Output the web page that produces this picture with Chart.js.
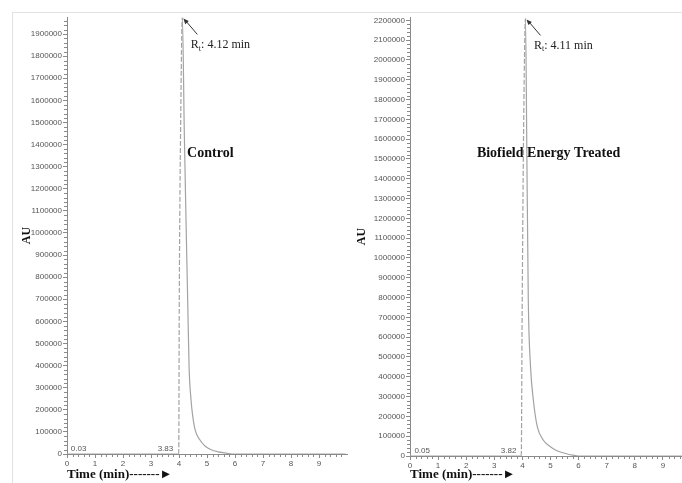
<!DOCTYPE html>
<html>
<head>
<meta charset="utf-8">
<script src="https://cdn.jsdelivr.net/npm/chart.js@4.4.1/dist/chart.umd.min.js"></script>
<style>
  html, body { margin: 0; padding: 0; background: #fff; }
  #wrap { position: relative; width: 682px; height: 483px; overflow: hidden; }
  #frame { position: absolute; left: 12px; top: 12px; width: 670px; height: 471px;
           border-top: 1px solid #e2e2e2; border-left: 1px solid #e2e2e2; }
  canvas { position: absolute; top: 0; }
  #left { left: 0; }
  #right { left: 341px; }
</style>
</head>
<body>
<div id="wrap">
  <div id="frame"></div>
  <canvas id="left" width="352" height="483"></canvas>
  <canvas id="right" width="341" height="483"></canvas>
</div>
<script>
// control sample (left panel)
const timeControl = [0, 3.99, 4.01, 4.06, 4.12, 4.19, 4.26, 4.31, 4.36, 4.43, 4.55, 4.75, 4.95, 5.17, 5.4, 5.64, 5.9, 9.95];
const auControl   = [0, 0, 700000, 1500000, 1975000, 1450000, 1000000, 697000, 395000, 244000, 124000, 63000, 34000, 18000, 10000, 5000, 0, 0];

// biofield energy treated sample (right panel)
const timeTreated = [0, 3.96, 3.99, 4.04, 4.11, 4.16, 4.21, 4.29, 4.39, 4.53, 4.74, 4.95, 5.16, 5.38, 5.6, 5.8, 6.0, 9.7];
const auTreated   = [0, 0, 700000, 1600000, 2210000, 1500000, 788000, 450000, 283000, 148000, 81000, 52000, 32000, 19000, 10000, 4000, 0, 0];

const sampleNames = ['Control', 'Biofield Energy Treated'];
const retentionTimes = ['4.12', '4.11'];
const baselineMarks = [['0.03', '3.83'], ['0.05', '3.82']];
const yTicksControl = [0, 100000, 200000, 300000, 400000, 500000, 600000, 700000, 800000, 900000, 1000000,
  1100000, 1200000, 1300000, 1400000, 1500000, 1600000, 1700000, 1800000, 1900000];
const yTicksTreated = yTicksControl.concat([2000000, 2100000, 2200000]);
const xTicks = [0, 1, 2, 3, 4, 5, 6, 7, 8, 9];

const axisColor = '#8a8a8a';
const lineColor = '#a3a3a3';

const decorations = {
  id: 'decorations',
  afterDraw(chart, args, opts) {
    const ctx = chart.ctx;
    const xs = chart.scales.x, ys = chart.scales.y;
    ctx.save();

    // minor ticks
    ctx.strokeStyle = axisColor;
    ctx.lineWidth = 1;
    ctx.beginPath();
    for (let v = 20000; v <= ys.max; v += 20000) {
      if (v % 100000 === 0) continue;
      const py = Math.round(ys.getPixelForValue(v)) + 0.5;
      ctx.moveTo(ys.right - 3, py);
      ctx.lineTo(ys.right, py);
    }
    for (let i = 1; i * 0.2 <= xs.max; i++) {
      if (i % 5 === 0) continue;
      const px = Math.round(xs.getPixelForValue(i * 0.2)) + 0.5;
      ctx.moveTo(px, xs.top);
      ctx.lineTo(px, xs.top + 3);
    }
    ctx.stroke();

    // baseline peak marks
    const y0 = ys.getPixelForValue(0);
    ctx.fillStyle = '#555';
    ctx.font = '8px "Liberation Sans", Arial, sans-serif';
    ctx.textBaseline = 'bottom';
    ctx.textAlign = 'left';
    ctx.fillText(opts.marks[0], xs.getPixelForValue(+opts.marks[0]) + 3, y0 - 1);
    ctx.textAlign = 'right';
    ctx.fillText(opts.marks[1], xs.getPixelForValue(+opts.marks[1]) - 1, y0 - 1);

    // retention time arrow + label
    const ds = chart.data.datasets[0].data;
    let apex = ds[0];
    ds.forEach(p => { if (p.y > apex.y) apex = p; });
    const ax = xs.getPixelForValue(apex.x), ay = ys.getPixelForValue(apex.y);
    ctx.strokeStyle = '#333';
    ctx.fillStyle = '#333';
    ctx.beginPath();
    ctx.moveTo(ax + 15, ay + 17);
    ctx.lineTo(ax + 3, ay + 3);
    ctx.stroke();
    const ang = Math.atan2(-16, -14);
    ctx.beginPath();
    ctx.moveTo(ax + 1, ay + 1);
    ctx.lineTo(ax + 1 - 6 * Math.cos(ang - 0.4), ay + 1 - 6 * Math.sin(ang - 0.4));
    ctx.lineTo(ax + 1 - 6 * Math.cos(ang + 0.4), ay + 1 - 6 * Math.sin(ang + 0.4));
    ctx.closePath();
    ctx.fill();

    ctx.fillStyle = '#222';
    ctx.textAlign = 'left';
    ctx.textBaseline = 'middle';
    let tx = ax + 8.5;
    const ty = ay + 27;
    ctx.font = '12px "Liberation Serif", "Times New Roman", serif';
    ctx.fillText('R', tx, ty);
    tx += ctx.measureText('R').width;
    ctx.font = '8px "Liberation Serif", "Times New Roman", serif';
    ctx.fillText('t', tx, ty + 4);
    tx += ctx.measureText('t').width;
    ctx.font = '12px "Liberation Serif", "Times New Roman", serif';
    ctx.fillText(': ' + opts.rt + ' min', tx, ty);

    // sample name
    ctx.fillStyle = '#111';
    ctx.font = 'bold 14px "Liberation Serif", "Times New Roman", serif';
    ctx.fillText(opts.name, xs.getPixelForValue(opts.nameAt[0]), ys.getPixelForValue(opts.nameAt[1]));
    ctx.restore();
  }
};

function makeChart(id, times, values, yTicks, cfg) {
  const points = times.map((t, i) => ({ x: t, y: values[i] }));
  return new Chart(document.getElementById(id).getContext('2d'), {
    type: 'line',
    data: {
      datasets: [{
        data: points,
        borderColor: lineColor,
        borderWidth: 1.2,
        pointRadius: 0,
        fill: false,
        cubicInterpolationMode: 'monotone',
        segment: {
          borderDash: c => (c.p1.parsed.y > c.p0.parsed.y ? [5, 2] : undefined)
        }
      }]
    },
    options: {
      responsive: false,
      animation: false,
      layout: { padding: { left: 0, right: cfg.padRight, top: 17, bottom: 0 } },
      scales: {
        x: {
          type: 'linear',
          min: 0,
          max: cfg.xMax,
          afterBuildTicks: s => { s.ticks = xTicks.map(v => ({ value: v })); },
          afterFit: s => { s.height = cfg.xHeight; },
          border: { color: axisColor },
          grid: { drawOnChartArea: false, tickLength: 4, tickColor: axisColor },
          ticks: {
            autoSkip: false, maxRotation: 0, padding: 1, color: '#555',
            font: { family: '"Liberation Sans", Arial, sans-serif', size: 8 },
            callback: v => String(v)
          },
          title: {
            display: true,
            text: 'Time (min)-------►',
            align: 'start',
            color: '#111',
            font: { family: '"Liberation Serif", "Times New Roman", serif', size: 13, weight: 'bold' },
            padding: { top: 0, bottom: 1 }
          }
        },
        y: {
          min: 0,
          max: cfg.yMax,
          afterBuildTicks: s => { s.ticks = yTicks.map(v => ({ value: v })); },
          afterFit: s => { s.width = cfg.yWidth; },
          border: { color: axisColor },
          grid: { drawOnChartArea: false, tickLength: 4, tickColor: axisColor },
          ticks: {
            autoSkip: false, padding: 1, color: '#555',
            font: { family: '"Liberation Sans", Arial, sans-serif', size: 8 },
            callback: v => String(v)
          },
          title: {
            display: true,
            text: 'AU',
            color: '#111',
            font: { family: '"Liberation Serif", "Times New Roman", serif', size: 12, weight: 'bold' },
            padding: { top: cfg.titlePad, bottom: 0 }
          }
        }
      },
      plugins: {
        legend: { display: false },
        tooltip: { enabled: false },
        decorations: { name: cfg.name, rt: cfg.rt, marks: cfg.marks, nameAt: cfg.nameAt }
      }
    },
    plugins: [decorations]
  });
}

makeChart('left', timeControl, auControl, yTicksControl, {
  padRight: 5, xMax: 10, xHeight: 29, yMax: 1977000, yWidth: 67, titlePad: 20,
  name: sampleNames[0], rt: retentionTimes[0], marks: baselineMarks[0], nameAt: [4.29, 1362000]
});
makeChart('right', timeTreated, auTreated, yTicksTreated, {
  padRight: 0, xMax: 9.68, xHeight: 27, yMax: 2217000, yWidth: 69, titlePad: 14,
  name: sampleNames[1], rt: retentionTimes[1], marks: baselineMarks[1], nameAt: [2.38, 1530000]
});
</script>
</body>
</html>
